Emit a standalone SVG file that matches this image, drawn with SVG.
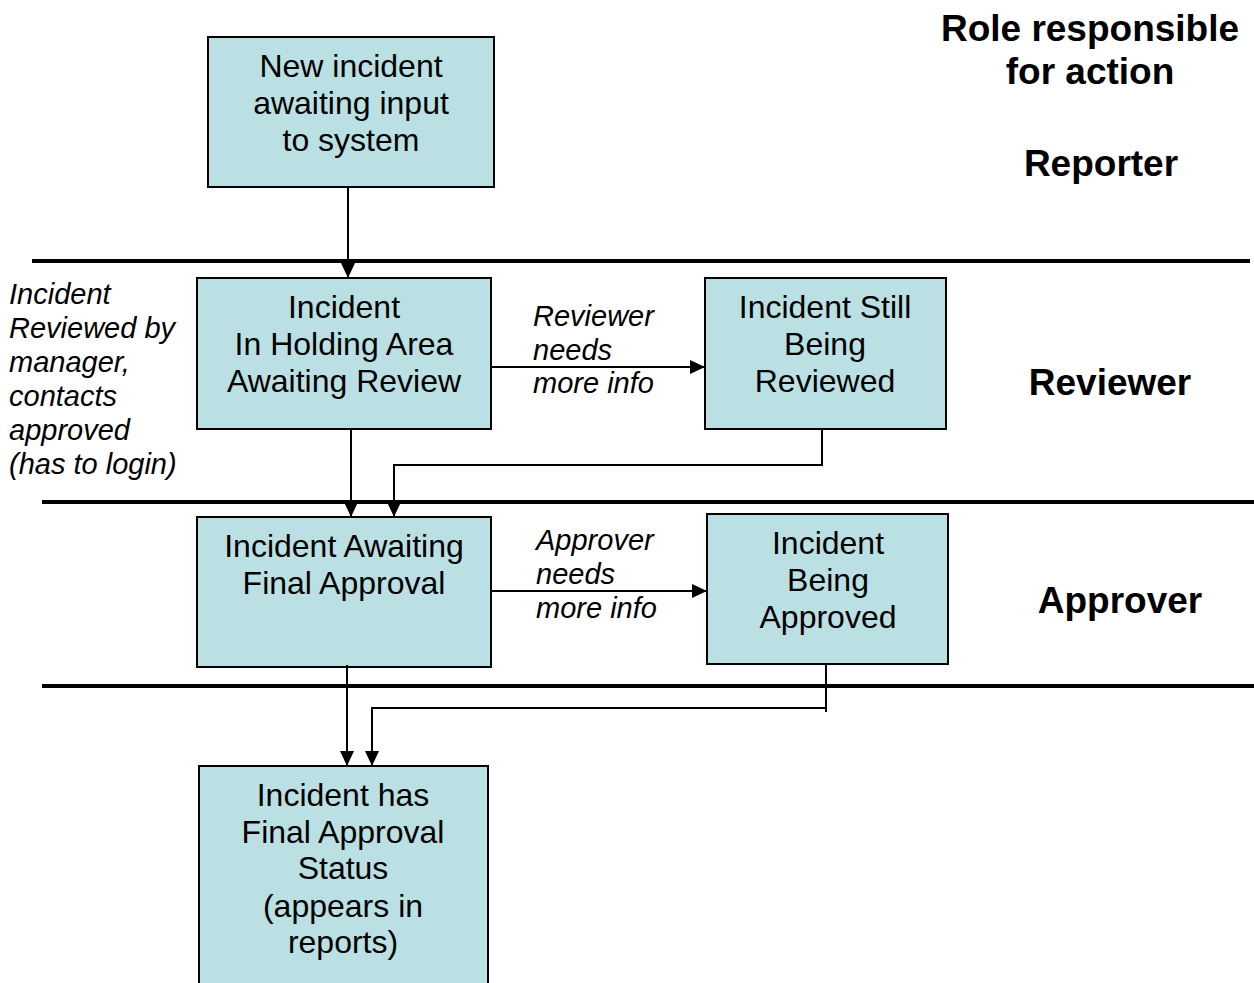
<svg xmlns="http://www.w3.org/2000/svg" width="1254" height="983" viewBox="0 0 1254 983">
<defs>
<marker id="ah" markerWidth="15" markerHeight="14" viewBox="0 0 15 14" refX="15" refY="7" orient="auto" markerUnits="userSpaceOnUse">
<path d="M0,0 L15,7 L0,14 z" fill="#000"/>
</marker>
<style>
.box{fill:#BBE0E3;stroke:#000;stroke-width:2}
.t{font-family:"Liberation Sans",Arial,sans-serif;font-size:32px;fill:#000;text-anchor:middle}
.i{font-family:"Liberation Sans",Arial,sans-serif;font-size:29px;font-style:italic;fill:#000}
.b{font-family:"Liberation Sans",Arial,sans-serif;font-size:37px;font-weight:bold;fill:#000;text-anchor:middle}
.sep{stroke:#000;stroke-width:4}
.c{fill:none;stroke:#000;stroke-width:2}
</style>
</defs>
<rect width="1254" height="983" fill="#fff"/>
<g id="lanes">
<line class="sep" x1="32" y1="261" x2="1250" y2="261"/>
<line class="sep" x1="42" y1="502" x2="1254" y2="502"/>
<line class="sep" x1="42" y1="686" x2="1254" y2="686"/>
</g>
<g id="n1"><rect class="box" x="208" y="37" width="286" height="150"/>
<text class="t" x="351"><tspan x="351" y="77">New incident</tspan><tspan x="351" y="114">awaiting input</tspan><tspan x="351" y="151">to system</tspan></text></g>
<g id="n2"><rect class="box" x="197" y="278" width="294" height="151"/>
<text class="t"><tspan x="344" y="318">Incident</tspan><tspan x="344" y="355">In Holding Area</tspan><tspan x="344" y="392">Awaiting Review</tspan></text></g>
<g id="n3"><rect class="box" x="705" y="278" width="241" height="151"/>
<text class="t"><tspan x="825" y="318">Incident Still</tspan><tspan x="825" y="355">Being</tspan><tspan x="825" y="392">Reviewed</tspan></text></g>
<g id="n4"><rect class="box" x="197" y="517" width="294" height="150"/>
<text class="t"><tspan x="344" y="557">Incident Awaiting</tspan><tspan x="344" y="594">Final Approval</tspan></text></g>
<g id="n5"><rect class="box" x="707" y="514" width="241" height="150"/>
<text class="t"><tspan x="828" y="554">Incident</tspan><tspan x="828" y="591">Being</tspan><tspan x="828" y="628">Approved</tspan></text></g>
<g id="n6"><rect class="box" x="199" y="766" width="289" height="230"/>
<text class="t"><tspan x="343" y="806">Incident has</tspan><tspan x="343" y="843">Final Approval</tspan><tspan x="343" y="879">Status</tspan><tspan x="343" y="917">(appears in</tspan><tspan x="343" y="953">reports)</tspan></text></g>
<g id="connectors">
<line class="c" x1="348" y1="187" x2="348" y2="278" marker-end="url(#ah)"/>
<line class="c" x1="351" y1="429" x2="351" y2="517" marker-end="url(#ah)"/>
<polyline class="c" points="822,429 822,465 394,465 394,517" marker-end="url(#ah)"/>
<line class="c" x1="491" y1="367" x2="705" y2="367" marker-end="url(#ah)"/>
<line class="c" x1="491" y1="591" x2="707" y2="591" marker-end="url(#ah)"/>
<line class="c" x1="347" y1="665" x2="347" y2="766" marker-end="url(#ah)"/>
<line class="c" x1="826" y1="664" x2="826" y2="712"/>
<polyline class="c" points="826,708 372,708 372,766" marker-end="url(#ah)"/>
</g>
<g id="labels">
<text class="i"><tspan x="533" y="326">Reviewer</tspan><tspan x="533" y="360">needs</tspan><tspan x="533" y="393">more info</tspan></text>
<text class="i"><tspan x="536" y="550">Approver</tspan><tspan x="536" y="584">needs</tspan><tspan x="536" y="618">more info</tspan></text>
<text class="i"><tspan x="9" y="304">Incident</tspan><tspan x="9" y="338">Reviewed by</tspan><tspan x="9" y="372">manager,</tspan><tspan x="9" y="406">contacts</tspan><tspan x="9" y="440">approved</tspan><tspan x="9" y="474">(has to login)</tspan></text>
<text class="b"><tspan x="1090" y="41">Role responsible</tspan><tspan x="1090" y="84">for action</tspan></text>
<text class="b" x="1101" y="176">Reporter</text>
<text class="b" x="1110" y="395">Reviewer</text>
<text class="b" x="1120" y="613">Approver</text>
</g>
</svg>
